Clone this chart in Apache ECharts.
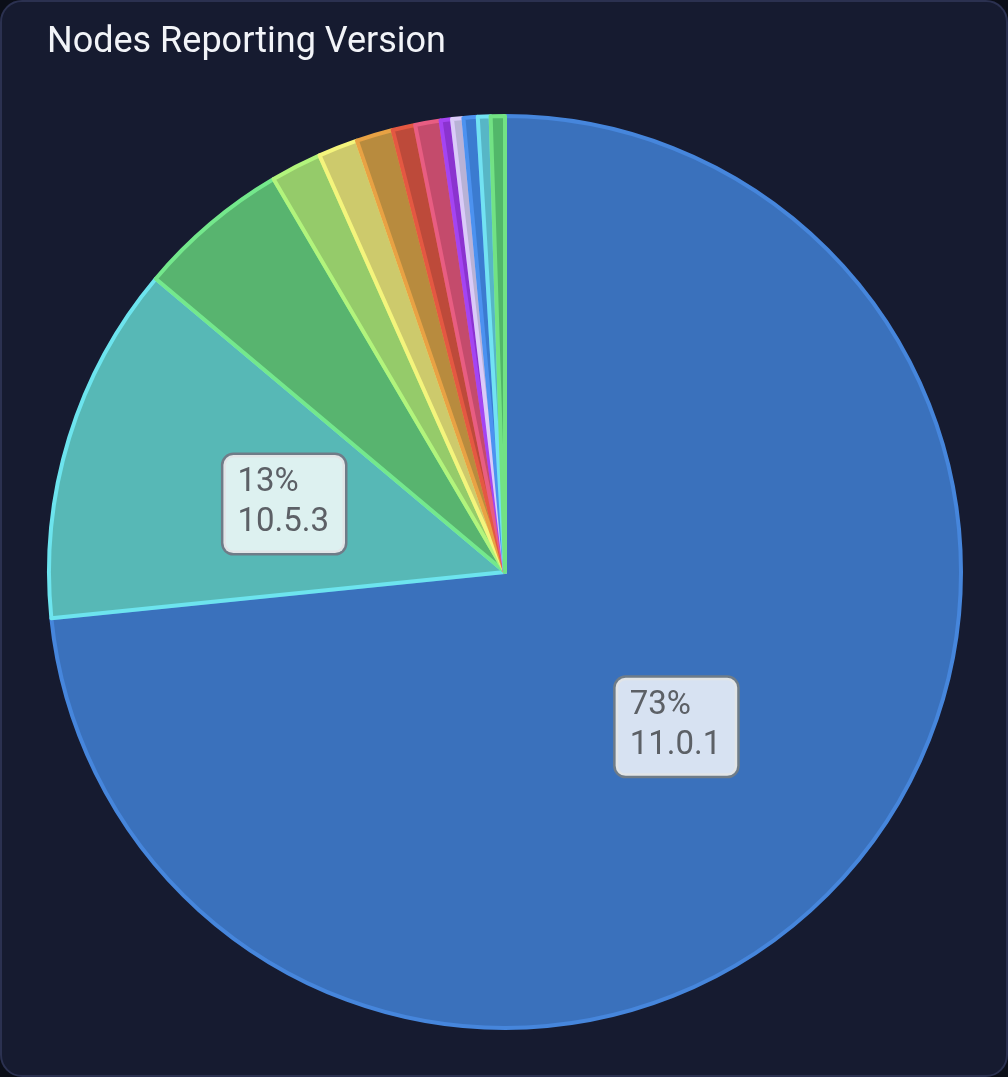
<!DOCTYPE html>
<html>
<head>
<meta charset="utf-8">
<script src="https://cdn.jsdelivr.net/npm/echarts@6/dist/echarts.min.js"></script>
<style>
  html, body { margin: 0; padding: 0; background: #0b0e18; }
  #nodesVersion {
    width: 1004px;
    height: 1073px;
    background: #161b30;
    border: 2px solid #2b3150;
    border-radius: 22px;
    overflow: hidden;
  }
</style>
</head>
<body>
<div id="nodesVersion"></div>
<script>
// versions, clockwise from 12 o'clock
const versions = ["11.0.1", "10.5.3", "10.5.2", "10.5.1", "10.4.2", "10.4.1", "10.3.3", "10.3.2", "10.3.1", "10.2.1", "10.1.2", "10.1.1", "10.0.1"]
// share of nodes, percent
const shares = [73.2, 12.7, 5.4, 1.8, 1.4, 1.3, 0.8, 0.9, 0.4, 0.4, 0.5, 0.45, 0.5]
const fillColors = ["#3a71bc", "#57b8b6", "#58b46f", "#95cb6a", "#cdca6c", "#b88b3e", "#bd4a3a", "#c44b6c", "#8b33cf", "#b8b2d6", "#3b7bd0", "#57b6c6", "#52b76a"]
const lineColors = ["#4686dc", "#6de4ee", "#74e88c", "#b2f47c", "#f4f47c", "#e8a244", "#e45842", "#e85d82", "#a444f2", "#dacbf8", "#4c92f0", "#72e2f2", "#72e284"]

const chart = echarts.init(document.getElementById("nodesVersion"))

const data = versions.map((v, i) => ({
  name: v,
  value: shares[i],
  itemStyle: { color: fillColors[i], borderColor: lineColors[i] },
  label: { show: shares[i] > 10 }
}))

chart.setOption({
  backgroundColor: "transparent",
  title: {
    text: "Nodes Reporting Version",
    left: 40,
    top: 18,
    textStyle: {
      color: "#f2f4f8",
      fontFamily: "Roboto",
      fontSize: 36,
      fontWeight: "normal"
    }
  },
  series: [{
    type: "pie",
    center: [503, 570],
    radius: [0, 456],
    startAngle: 90,
    clockwise: true,
    avoidLabelOverlap: false,
    itemStyle: {
      borderWidth: 4
    },
    label: {
      position: "inside",
      formatter: p => "{t|" + Math.round(p.percent) + "%}\n{t|" + p.name + "}",
      backgroundColor: "rgba(255,255,255,0.8)",
      borderColor: "#6f7c88",
      borderWidth: 2.5,
      borderRadius: 10,
      padding: [8, 16, 10, 14],
      rich: {
        t: {
          color: "#5c6066",
          fontFamily: "Roboto",
          fontSize: 33,
          lineHeight: 40,
          align: "left"
        }
      }
    },
    labelLine: { show: false },
    emphasis: { disabled: true },
    data: data
  }]
})
</script>
</body>
</html>
